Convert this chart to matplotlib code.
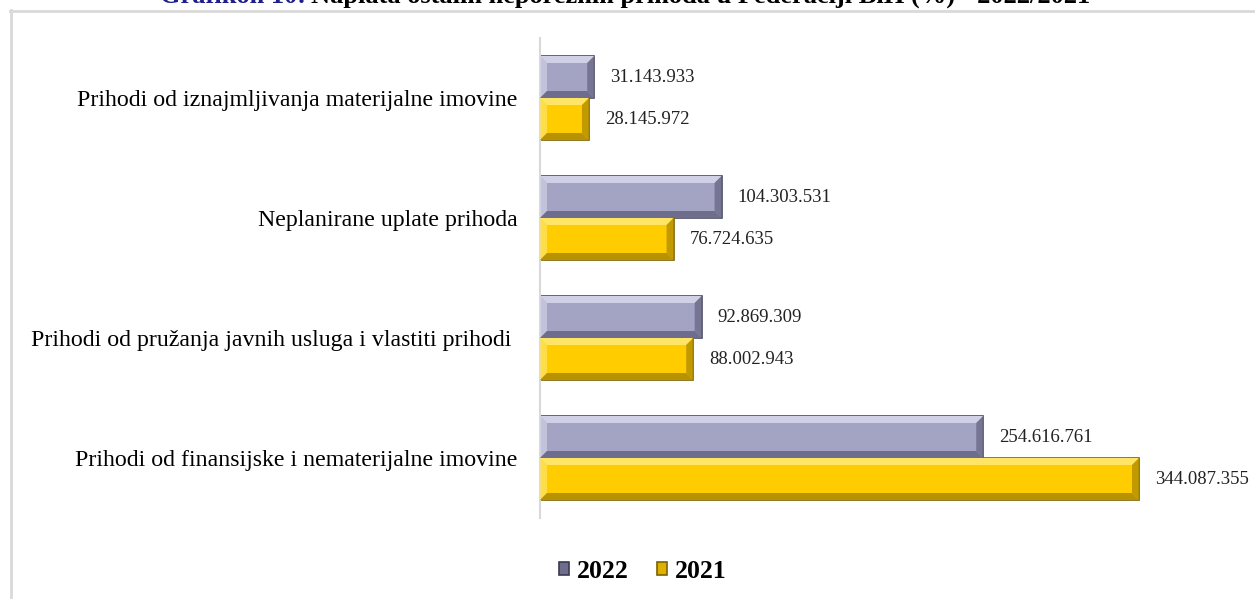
import matplotlib
matplotlib.use("Agg")
import matplotlib.pyplot as plt
from matplotlib.patches import Polygon, Patch
from matplotlib.lines import Line2D
import numpy as np

categories = [
    "Prihodi od iznajmljivanja materijalne imovine",
    "Neplanirane uplate prihoda",
    "Prihodi od pružanja javnih usluga i vlastiti prihodi ",
    "Prihodi od finansijske i nematerijalne imovine",
]
values_2022 = [31143933, 104303531, 92869309, 254616761]
values_2021 = [28145972, 76724635, 88002943, 344087355]
series_names = ["2022", "2021"]
labels_2022 = ["31.143.933", "104.303.531", "92.869.309", "254.616.761"]
labels_2021 = ["28.145.972", "76.724.635", "88.002.943", "344.087.355"]

W, H = 1255, 599
fig = plt.figure(figsize=(W / 100, H / 100), dpi=100)
plt.rcParams['font.family'] = ['Liberation Serif', 'DejaVu Serif']

# frame
fig.add_artist(Line2D([11 / W, 11 / W], [0, 1 - 10 / H], transform=fig.transFigure, color="#D9D9D9", lw=2))
fig.add_artist(Line2D([10 / W, 1], [1 - 11 / H, 1 - 11 / H], transform=fig.transFigure, color="#D9D9D9", lw=2))

ax_l, ax_r, ax_t, ax_b = 540, 1240, 38, 518
ax = fig.add_axes([ax_l / W, 1 - ax_b / H, (ax_r - ax_l) / W, (ax_b - ax_t) / H])
xmax = 344087355 * (ax_r - ax_l) / (1139 - 540)
ax.set_xlim(0, xmax)
ax.set_ylim(3.5, -0.5)

y = np.arange(len(categories))
bh = 0.35
colors = {"2022": ("#A3A3C4", "#4A4A62", "#D0D0E6", "#6E6E8C"),
          "2021": ("#FFCC00", "#7A6200", "#FFE566", "#B89200")}

px_x = xmax / (ax_r - ax_l)
px_y = 4.0 / (ax_b - ax_t)
bev = 7


def bevel(x0, y0, w, h, light, dark):
    bx = min(bev * px_x, w / 2)
    by = bev * px_y
    x1, y1 = x0 + w, y0 + h
    ax.add_patch(Polygon([[x0, y0], [x1, y0], [x1 - bx, y0 + by], [x0 + bx, y0 + by]], closed=True, fc=light, ec='none', zorder=3))
    ax.add_patch(Polygon([[x0, y0], [x0 + bx, y0 + by], [x0 + bx, y1 - by], [x0, y1]], closed=True, fc=light, ec='none', alpha=0.7, zorder=3))
    ax.add_patch(Polygon([[x0, y1], [x1, y1], [x1 - bx, y1 - by], [x0 + bx, y1 - by]], closed=True, fc=dark, ec='none', zorder=3))
    ax.add_patch(Polygon([[x1, y0], [x1, y1], [x1 - bx, y1 - by], [x1 - bx, y0 + by]], closed=True, fc=dark, ec='none', alpha=0.85, zorder=3))


for vals, labs, name, off in [(values_2022, labels_2022, "2022", -bh / 2), (values_2021, labels_2021, "2021", bh / 2)]:
    face, edge, light, dark = colors[name]
    bars = ax.barh(y + off, vals, height=bh, color=face, edgecolor=edge, linewidth=1.2, zorder=2, label=name)
    for b, lab in zip(bars, labs):
        bevel(b.get_x(), b.get_y(), b.get_width(), b.get_height(), light, dark)
        ax.annotate(lab, (b.get_width(), b.get_y() + b.get_height() / 2), xytext=(11.5, 0),
                    textcoords="offset points", va="center", ha="left", fontsize=13.5, color="#222222")

ax.set_yticks(y)
ax.set_yticklabels(categories, fontsize=17.2)
ax.tick_params(axis='y', length=0, pad=16)
ax.set_xticks([])
for s in ["top", "right", "bottom"]:
    ax.spines[s].set_visible(False)
ax.spines["left"].set_color("#D9D9D9")
ax.spines["left"].set_linewidth(1.5)

# legend
handles = [Patch(fc="#6E6E8C", ec="#3A3A50", lw=1.2), Patch(fc="#E0B000", ec="#7A6200", lw=1.2)]
leg = fig.legend(handles, series_names, loc="center", bbox_to_anchor=(643 / W, 1 - 571 / H), ncol=2,
                 frameon=False, prop={'weight': 'bold', 'size': 18.5}, handlelength=0.4, handleheight=0.4,
                 handletextpad=0.3, columnspacing=1.1)

# title (cut off at top, as in the reference)
t1 = fig.text(160 / W, 1 - 3 / H, "Grafikon 10:", color="#1F1F8A", fontsize=19, fontweight="bold", va="baseline", ha="left")
fig.canvas.draw()
bb = t1.get_window_extent()
fig.text(bb.x1 / W + 5 / W, 1 - 3 / H, "Naplata ostalih neporeznih prihoda u Federaciji BiH (%) - 2022/2021",
         color="black", fontsize=19, fontweight="bold", va="baseline", ha="left")

fig.savefig("out.png", dpi=100)
